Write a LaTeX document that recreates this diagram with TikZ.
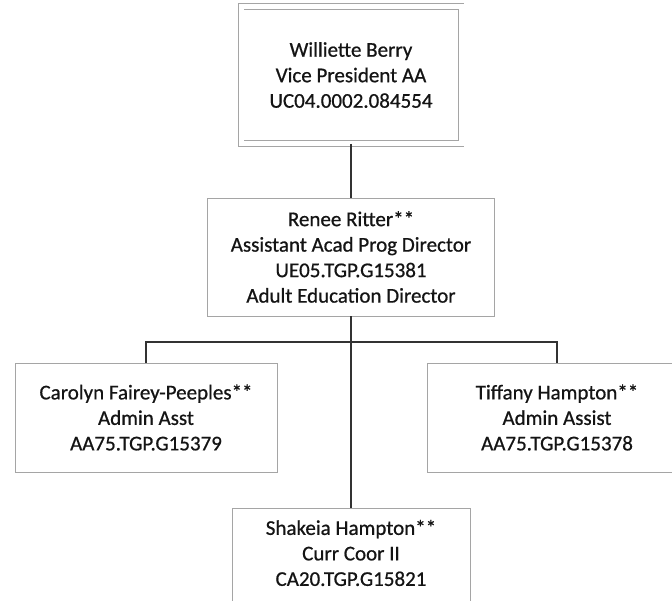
\documentclass[tikz,border=0pt]{standalone}
\usepackage{fontspec}
\setmainfont[FakeBold=0.7]{Carlito}
\definecolor{boxgray}{RGB}{165,165,165}
\definecolor{conncol}{RGB}{50,50,50}
\definecolor{txtcol}{RGB}{20,20,20}
\begin{document}
\begin{tikzpicture}[x=1pt,y=-1pt,
  box/.style={draw=boxgray, line width=0.9pt, fill=white, rectangle, inner sep=0pt, align=center,
    font=\fontsize{21}{25.5}\selectfont, text=txtcol},
  txt/.style={inner sep=0pt, align=center, font=\fontsize{21}{25.5}\selectfont, text=txtcol},
  conn/.style={draw=conncol, line width=1.6pt}]
\clip (0,0) rectangle (672,601);
\fill[white] (0,0) rectangle (672,601);

\node[box, double=white, double distance=5pt, minimum width=220pt, minimum height=137pt] (wb) at (351,75)
  {Williette Berry\\Vice President AA\\UC04.0002.084554};
\node[box, minimum width=287pt, minimum height=118pt] (mid) at (351,257)
  {Renee Ritter**\\Assistant Acad Prog Director\\UE05.TGP.G15381\\Adult Education Director};
\node[box, minimum width=262pt, minimum height=109pt] (cf) at (146,417.5)
  {Carolyn Fairey-Peeples**\\Admin Asst\\AA75.TGP.G15379};
\node[box, minimum width=260pt, minimum height=109pt] (th) at (557,417.5)
  {Tiffany Hampton**\\Admin Assist\\AA75.TGP.G15378};
\node[box, minimum width=238pt, minimum height=110pt] (sh) at (351,563) {};
\node[txt] (shtxt) at (351,553) {Shakeia Hampton**\\Curr Coor II\\CA20.TGP.G15821};

\coordinate (bar) at (351,342);
\draw[conn] (wb.south) -- (mid.north);
\draw[conn] (mid.south) -- (sh.north);
\draw[conn] (cf.north) |- (bar) -| (th.north);
\end{tikzpicture}
\end{document}
